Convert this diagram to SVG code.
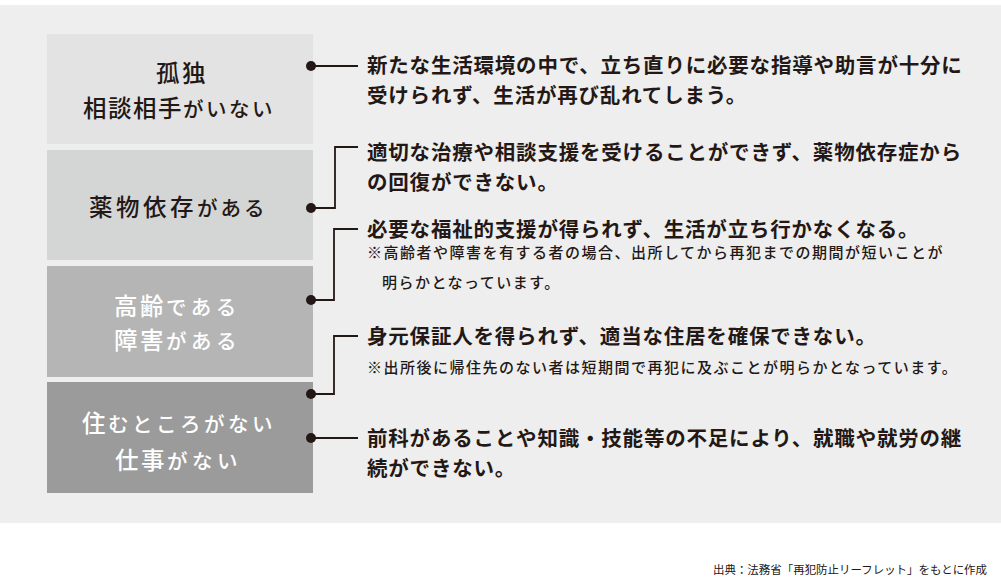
<svg xmlns="http://www.w3.org/2000/svg" width="1001" height="586" viewBox="0 0 1001 586">
<style>
.box{font-family:"Noto Sans CJK JP","Noto Sans",sans-serif;font-weight:500;}
.k{font-size:23.5px;letter-spacing:2.5px;}
.h{font-size:20.5px;letter-spacing:3px;}
.dark{fill:#231815;}
.light{fill:#ffffff;}
.main{font-family:"Noto Sans CJK JP","Noto Sans",sans-serif;font-weight:700;font-size:20.5px;letter-spacing:0.8px;fill:#231815;}
.note{font-family:"Noto Sans CJK JP","Noto Sans",sans-serif;font-weight:500;font-size:15px;letter-spacing:1.5px;fill:#231815;}
.src{font-family:"Noto Sans CJK JP","Noto Sans",sans-serif;font-weight:400;font-size:11.5px;fill:#231815;}
.conn{fill:none;stroke:#231815;stroke-width:1.8;}
.dot{fill:#231815;}
</style>
<rect x="0" y="0" width="1001" height="586" fill="#ffffff"/>
<rect x="0" y="5" width="1001" height="518" fill="#eeeeee"/>

<g id="node-kodoku">
<rect x="47" y="34" width="266" height="110" fill="#e3e3e3"/>
<text class="box dark" x="156" y="82"><tspan class="k">孤独</tspan></text>
<text class="box dark" x="83" y="117"><tspan class="k" style="letter-spacing:1.5px">相談相手</tspan><tspan class="h" style="letter-spacing:2.5px">がいない</tspan></text>
</g>

<g id="node-yakubutsu">
<rect x="47" y="150" width="266" height="110" fill="#d4d5d5"/>
<text class="box dark" x="89" y="215.5"><tspan class="k" style="letter-spacing:3.5px">薬物依存</tspan><tspan class="h" style="letter-spacing:3px">がある</tspan></text>
</g>

<g id="node-koureishougai">
<rect x="47" y="266" width="266" height="111" fill="#b5b5b5"/>
<text class="box light" x="114" y="314.5"><tspan class="k">高齢</tspan><tspan class="h" style="letter-spacing:4.5px">である</tspan></text>
<text class="box light" x="114" y="348.5"><tspan class="k">障害</tspan><tspan class="h" style="letter-spacing:4.5px">がある</tspan></text>
</g>

<g id="node-sumai">
<rect x="47" y="382" width="266" height="111" fill="#9b9b9b"/>
<text class="box light" x="82" y="432"><tspan class="k">住</tspan><tspan class="h" style="letter-spacing:3.5px">むところがない</tspan></text>
<text class="box light" x="115" y="468.5"><tspan class="k">仕事</tspan><tspan class="h" style="letter-spacing:4.5px">がない</tspan></text>
</g>

<g id="connectors">
<path class="conn" d="M311 66 H358"/>
<path class="conn" d="M311 208 H335 V147 H358"/>
<path class="conn" d="M311 300 H334 V229 H358"/>
<path class="conn" d="M311 394 H334 V336 H358"/>
<path class="conn" d="M311 438 H358"/>
<circle class="dot" cx="311" cy="66" r="5"/>
<circle class="dot" cx="311" cy="208" r="5"/>
<circle class="dot" cx="311" cy="300" r="5"/>
<circle class="dot" cx="311" cy="394" r="5"/>
<circle class="dot" cx="311" cy="438" r="5"/>
</g>

<g id="text-1">
<text class="main" x="367" y="72.5">新たな生活環境の中で、立ち直りに必要な指導や助言が十分に</text>
<text class="main" x="367" y="102.5">受けられず、生活が再び乱れてしまう。</text>
</g>
<g id="text-2">
<text class="main" x="367" y="159.5">適切な治療や相談支援を受けることができず、薬物依存症から</text>
<text class="main" x="367" y="189.5">の回復ができない。</text>
</g>
<g id="text-3">
<text class="main" x="367" y="236.5">必要な福祉的支援が得られず、生活が立ち行かなくなる。</text>
<text class="note" x="367" y="257.7">※高齢者や障害を有する者の場合、出所してから再犯までの期間が短いことが</text>
<text class="note" x="382" y="287.7">明らかとなっています。</text>
</g>
<g id="text-4">
<text class="main" x="367" y="343.5">身元保証人を得られず、適当な住居を確保できない。</text>
<text class="note" x="367" y="372.7">※出所後に帰住先のない者は短期間で再犯に及ぶことが明らかとなっています。</text>
</g>
<g id="text-5">
<text class="main" x="367" y="445.5">前科があることや知識・技能等の不足により、就職や就労の継</text>
<text class="main" x="367" y="475.5">続ができない。</text>
</g>

<text class="src" x="713" y="573.5" textLength="274" lengthAdjust="spacingAndGlyphs">出典：法務省「再犯防止リーフレット」をもとに作成</text>
</svg>
